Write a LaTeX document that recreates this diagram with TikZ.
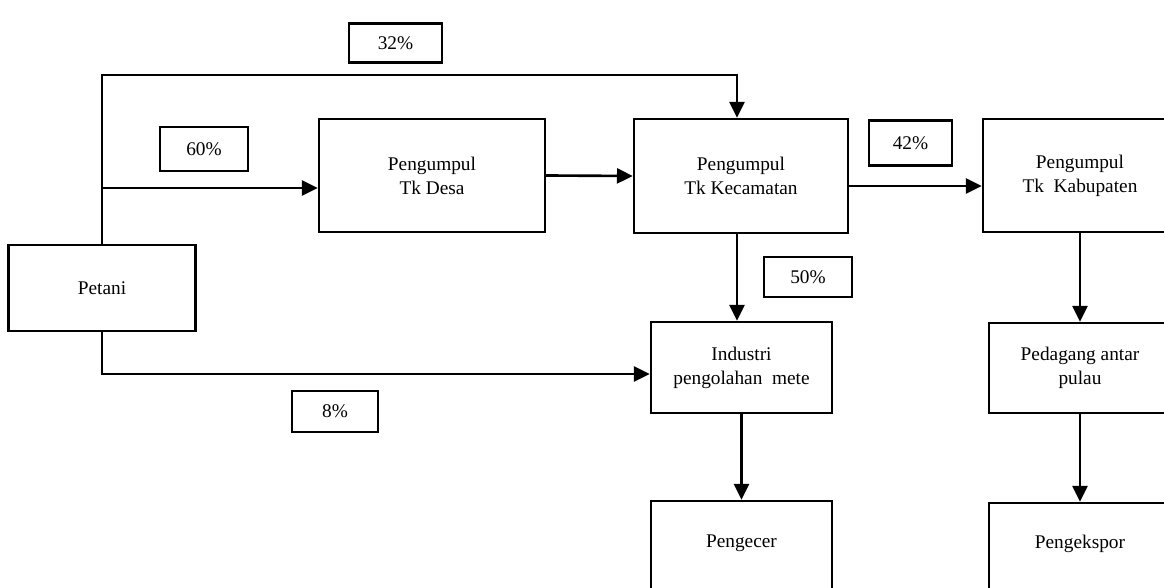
\documentclass[tikz,border=0pt]{standalone}
\usepackage{fontspec}
\setmainfont{Liberation Serif}
\usetikzlibrary{arrows.meta}
\begin{document}
\begin{tikzpicture}[x=0.02cm,y=-0.02cm,
  font=\fontsize{11}{13.6}\selectfont,
  box/.style={draw=black, line width=1.4pt, fill=white, align=center, inner sep=0},
  pct/.style={draw=black, line width=1.2pt, inner sep=0, minimum width=1.75cm, minimum height=0.78cm},
  flow/.style={line width=1.5pt, -{Triangle[length=9pt,width=8.5pt]}}]
\clip (0,0) rectangle (1164,588);

% labels of the shares
\node [pct, minimum width=1.86cm] (p32) at (395.5,43) {32\%};
\node [pct, minimum height=0.88cm] (p60) at (204,149) {60\%};
\node [pct, minimum width=1.66cm, minimum height=0.9cm] (p42) at (910.5,143) {42\%};
\node [pct, minimum height=0.8cm] (p50) at (808,277) {50\%};
\node [pct, minimum width=1.72cm, minimum height=0.82cm] (p8) at (335,411.5) {8\%};

% the actors
\node [box, minimum width=3.74cm, minimum height=1.72cm] (petani) at (102,288) {Petani};
\node [box, minimum width=4.52cm, minimum height=2.26cm] (desa) at (432,175.5) {Pengumpul\\Tk Desa};
\node [box, minimum width=4.28cm, minimum height=2.28cm] (kec) at (741,176) {Pengumpul\\Tk Kecamatan};
\node [box, minimum width=3.88cm, minimum height=2.26cm] (kab) at (1080,175.5) {Pengumpul\\Tk\ \ Kabupaten};
\node [box, minimum width=3.62cm, minimum height=1.82cm] (ind) at (741.5,367.5) {Industri\\pengolahan\ \ mete};
\node [box, minimum width=3.64cm, minimum height=1.8cm] (ped) at (1080,368) {Pedagang antar\\pulau};
\node [box, minimum width=3.62cm, minimum height=1.8cm, text depth=0.2cm] (ecer) at (741.5,546) {Pengecer};
\node [box, minimum width=3.64cm, minimum height=1.8cm, text depth=0.26cm] (ekspor) at (1080,548) {Pengekspor};

\coordinate (top) at (102,75);
\coordinate (j60) at (102,188);
\coordinate (j42) at (848,186);
\coordinate (j8) at (102,374);

\draw [flow] (petani.north) -- (top) -| ([xshift=-0.08cm]kec.north);
\draw [flow] (j60) -- (desa.west |- j60);
\draw [flow] (desa.east) -- (kec.west);
\draw [flow] (j42) -- (kab.west |- j42);
\draw [flow] ([xshift=-0.08cm]kec.south) -- ([xshift=-0.08cm]kec.south |- ind.north);
\draw [flow] (petani.south) -- (j8) -- (ind.west |- j8);
\draw [flow] (ind.south) -- (ecer.north);
\draw [flow] (kab.south) -- (ped.north);
\draw [flow] (ped.south) -- (ekspor.north);
\end{tikzpicture}
\end{document}
